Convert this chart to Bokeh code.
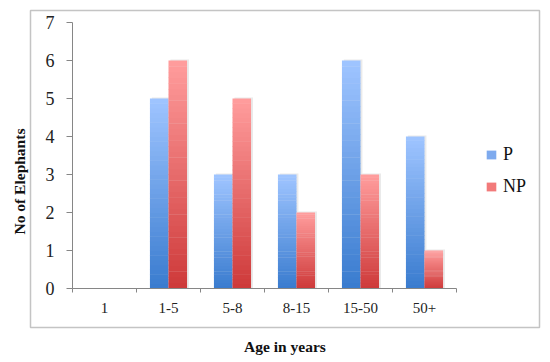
import numpy as np
from bokeh.plotting import figure
from bokeh.models import (Range1d, FixedTicker, Title, Legend, LegendItem, ColumnDataSource)
from bokeh.embed import file_html
from bokeh.resources import INLINE

categories = ["1", "1-5", "5-8", "8-15", "15-50", "50+"]
p_values = [0, 5, 3, 3, 6, 4]
np_values = [0, 6, 5, 2, 3, 1]
y_ticks = [0, 1, 2, 3, 4, 5, 6, 7]
series_names = ["P", "NP"]
x_title = "Age in years"
y_title = "No of Elephants"

FONT = "Liberation Serif"
P_TOP, P_BOT = (158, 196, 255), (58, 124, 207)
NP_TOP, NP_BOT = (255, 156, 156), (206, 58, 58)

# the frame is the outer chart box; the axes sit inside it at fixed locations
p = figure(width=548, height=362, output_backend="svg", toolbar_location=None,
           x_range=Range1d(-0.65625, 7.296875), y_range=Range1d(-1.0263, 7.3158),
           min_border_left=30, min_border_right=9, min_border_top=10, min_border_bottom=35)
p.outline_line_color = "#c4c4c4"
p.outline_line_width = 1.5
p.xgrid.visible = False
p.ygrid.visible = False
p.background_fill_color = "white"
p.border_fill_color = "white"

N = 40
BW = 0.29
def gradient_bars(values, offset, top_rgb, bot_rgb):
    vals = np.array(values, dtype=float)
    idx = np.arange(len(values))
    keep = vals > 0
    # soft drop shadow
    p.vbar(x=idx[keep] + 0.5 + offset + 0.03, bottom=0, top=vals[keep] + 0.025,
           width=BW, fill_color="#dcdcdc", fill_alpha=0.6, line_color=None)
    xs, bots, tops, cols = [], [], [], []
    for i, v in enumerate(values):
        if v <= 0:
            continue
        for k in range(N):
            t = k / (N - 1)
            c = tuple(int(round(b + (tp - b) * t)) for b, tp in zip(bot_rgb, top_rgb))
            xs.append(i + 0.5 + offset)
            bots.append(max(0.0, v * k / N - 0.01))
            tops.append(v * (k + 1) / N)
            cols.append("#%02x%02x%02x" % c)
    src = ColumnDataSource(dict(x=xs, bottom=bots, top=tops, color=cols))
    p.vbar(x="x", bottom="bottom", top="top", width=BW, fill_color="color",
           line_color=None, source=src)

gradient_bars(p_values, -BW / 2, P_TOP, P_BOT)
gradient_bars(np_values, BW / 2, NP_TOP, NP_BOT)

# axes
ax = p.xaxis[0]
ax.fixed_location = 0
ax.bounds = (0, len(categories))
ax.ticker = FixedTicker(ticks=[i + 0.5 for i in range(len(categories))],
                        minor_ticks=list(range(len(categories) + 1)))
ax.major_label_overrides = {i + 0.5: c for i, c in enumerate(categories)}
ax.major_tick_out = 0
ax.major_tick_in = 0
ax.minor_tick_out = 4
ax.minor_tick_in = 0
ax.minor_tick_line_color = "#868686"
ax.axis_line_color = "#868686"
ax.major_label_text_font = FONT
ax.major_label_text_font_size = "15px"
ax.major_label_text_color = "#222222"
ax.major_label_standoff = 10

ay = p.yaxis[0]
ay.fixed_location = 0
ay.bounds = (0, 7)
ay.ticker = FixedTicker(ticks=y_ticks)
ay.minor_tick_out = 0
ay.minor_tick_in = 0
ay.major_tick_out = 6
ay.major_tick_in = 0
ay.major_tick_line_color = "#868686"
ay.axis_line_color = "#868686"
ay.major_label_text_font = FONT
ay.major_label_text_font_size = "18px"
ay.major_label_text_color = "#222222"
ay.major_label_standoff = 12

# axis titles outside the box
p.add_layout(Title(text=x_title, align="center", text_font=FONT, text_font_style="bold",
                   text_font_size="15.5px", text_color="#111111", standoff=16), "below")
p.add_layout(Title(text=y_title, align="left", text_font=FONT, text_font_style="bold",
                   text_font_size="15.5px", text_color="#111111", standoff=6, offset=93), "left")

# legend
lg_p = p.quad(left=[-5], right=[-4], bottom=[-5], top=[-4], fill_color="#7eaaee", line_color=None)
lg_np = p.quad(left=[-5], right=[-4], bottom=[-5], top=[-4], fill_color="#f27a7a", line_color=None)
legend = Legend(items=[LegendItem(label=series_names[0], renderers=[lg_p]),
                       LegendItem(label=series_names[1], renderers=[lg_np])],
                location=(455, 130), orientation="vertical", border_line_color=None,
                background_fill_alpha=0, padding=0, margin=0, spacing=11,
                glyph_width=12, glyph_height=11, label_height=20, label_standoff=6,
                label_text_font=FONT, label_text_font_size="18px", label_text_color="#111111")
p.add_layout(legend)

open("out.html", "w").write(file_html(p, INLINE))
